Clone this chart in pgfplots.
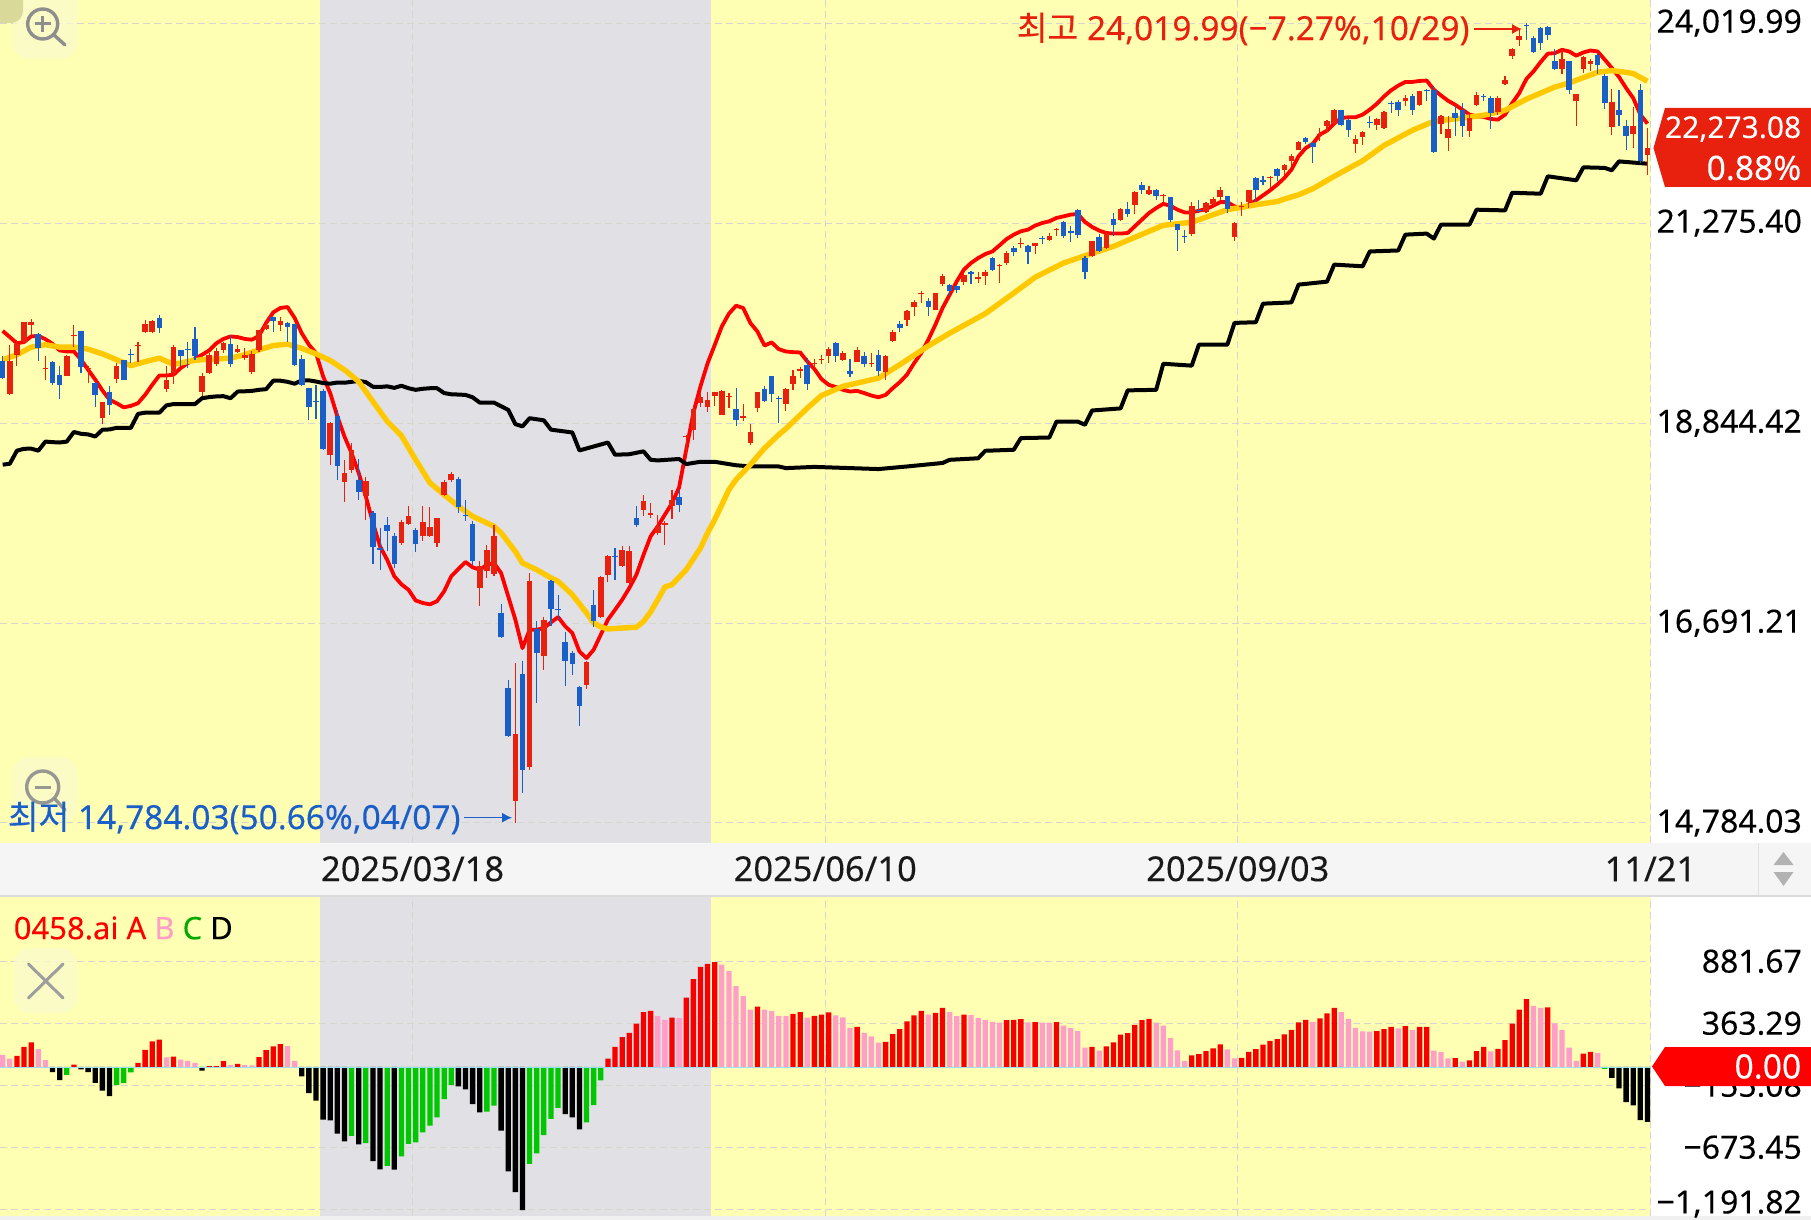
\documentclass[border=0pt]{standalone}
\usepackage{pgfplots}
\usepackage{pgfplotstable}
\pgfplotsset{compat=1.18}
\usetikzlibrary{arrows.meta}
\usepackage{fontspec}
\setmainfont[FakeBold=0.15]{Noto Sans}
\newfontfamily\cjk[FakeBold=0.15]{Noto Sans CJK KR}
\definecolor{chartbg}{HTML}{FFFFB4}
\definecolor{bandgray}{HTML}{E1E0E5}
\definecolor{candleup}{HTML}{E8200E}
\definecolor{candledn}{HTML}{1A5FC8}
\definecolor{mayel}{HTML}{FFC800}
\definecolor{gridc}{HTML}{D6D6CE}
\definecolor{barred}{HTML}{F60000}
\definecolor{barpink}{HTML}{FF9FC8}
\definecolor{bargreen}{HTML}{00C800}
\definecolor{icon}{HTML}{8E8E8E}
\definecolor{btn}{HTML}{FAFACB}
\pgfplotstableread{
i o h l c
1 19184 19763 19172 19573
2 19644 19823 19514 19775
3 19803 20033 19783 20033
4 20005 20074 19884 20033
6 19471 19624 19349 19486
9 19400 19644 19388 19624
10 19868 20005 19734 19880
12 19475 19506 19317 19486
14 18904 19094 18839 19090
16 19357 19545 19310 19514
19 19742 19803 19557 19759
20 19912 20066 19908 20013
21 19912 20058 19904 20053
23 19239 19514 19211 19341
24 19427 19763 19302 19734
28 19211 19427 19152 19392
29 19427 19663 19420 19644
30 19537 19722 19506 19683
31 19702 19803 19663 19783
33 19671 19763 19663 19718
34 19612 19722 19585 19644
35 19439 19683 19420 19652
36 19702 19944 19679 19944
37 19957 20045 19944 20005
39 19997 20098 19936 20053
46 18482 18854 18375 18851
48 18184 18431 17960 18283
49 18320 18618 18283 18542
51 18032 18238 17773 18198
56 17522 17773 17504 17752
57 17730 17924 17719 17809
59 17594 17917 17540 17748
60 17594 17910 17586 17694
61 17522 17791 17479 17787
62 18043 18209 18032 18190
63 18202 18291 18180 18268
67 17047 17328 16861 17276
68 17224 17504 17155 17450
69 17200 17719 17179 17601
72 14981 16292 14784.03 15605
74 15293 17207 15271 17127
76 16364 16753 16226 16726
82 16079 16308 16037 16302
84 16753 17172 16743 17165
85 17189 17397 17109 17380
87 17276 17493 17266 17450
88 17103 17486 17085 17443
90 17874 18043 17816 17977
91 17823 17959 17791 17841
92 17630 17827 17612 17708
93 17719 17755 17504 17734
94 17923 18099 17780 17988
96 18682 18713 18505 18702
97 18771 19056 18656 19006
98 19083 19192 19029 19144
99 19037 19207 18969 19113
100 19160 19211 19044 19207
101 18942 19227 18938 19219
102 19156 19192 19018 19164
104 18904 19063 18866 18926
105 18626 18839 18599 18740
106 19018 19207 18969 19199
110 19067 19251 18991 19243
111 19298 19459 19231 19396
112 19451 19498 19365 19475
114 19530 19592 19482 19545
115 19577 19640 19534 19592
116 19624 19734 19545 19718
118 19585 19694 19565 19663
120 19557 19734 19553 19702
122 19530 19663 19498 19545
124 19439 19640 19349 19632
125 19815 19944 19799 19920
127 20066 20187 19985 20175
128 20219 20300 20106 20276
129 20383 20416 20268 20391
131 20187 20396 20183 20391
132 20500 20633 20483 20608
135 20525 20633 20496 20620
137 20571 20650 20517 20587
138 20600 20675 20496 20650
140 20733 20754 20512 20746
141 20763 20913 20746 20892
143 21003 21084 20960 21020
145 20977 21020 20875 21016
147 21063 21148 21041 21114
148 21183 21209 21114 21200
153 20858 21050 20842 21046
155 20955 21148 20942 21131
157 21320 21466 21299 21457
159 21513 21693 21393 21680
161 21658 21764 21636 21711
163 21627 21653 21552 21640
167 21140 21556 21106 21492
169 21414 21544 21406 21535
170 21526 21609 21492 21591
171 21609 21746 21578 21711
173 21093 21286 21041 21281
174 21479 21544 21372 21496
175 21544 21711 21475 21702
178 21866 21888 21733 21875
180 21977 22057 21910 22044
181 22088 22190 22021 22155
182 22243 22357 22234 22344
185 22444 22540 22357 22462
186 22563 22654 22481 22631
187 22599 22800 22586 22791
190 22325 22449 22199 22389
191 22417 22503 22312 22490
193 22586 22677 22508 22663
194 22540 22778 22526 22764
197 22905 22999 22836 22947
199 22859 23055 22845 23046
202 22595 22723 22458 22700
203 22403 22700 22221 22526
206 22503 22745 22412 22682
207 22855 23032 22836 22994
210 22755 22985 22723 22952
211 23154 23267 23131 23211
212 23540 23658 23503 23644
213 23780 23949 23683 23838
219 23366 23634 23295 23503
221 22905 23013 22563 23003
222 23361 23550 23305 23531
223 23437 23503 23328 23470
226 22554 23079 22444 22901
229 22462 22827 22266 22572
231 22177 22540 21910 22273.08
}\candlesUp
\pgfplotstableread{
i o h l c
0 19565 19624 19357 19372
5 19896 19904 19565 19730
7 19553 19565 19290 19313
8 19404 19514 19121 19290
11 19936 19936 19427 19498
13 19317 19329 19026 19168
15 19203 19270 18938 19053
17 19577 19585 19341 19349
18 19655 19710 19545 19640
22 20090 20122 19904 19965
25 19695 19695 19506 19632
26 19718 19791 19486 19706
27 19831 19973 19585 19632
32 19775 19884 19498 19530
38 20094 20098 19912 20045
40 20029 20041 19803 19973
41 20009 20013 19514 19526
42 19592 19644 19278 19290
43 19251 19258 18877 19037
44 19105 19290 18893 19090
45 19219 19239 18542 18546
47 18931 18992 18209 18357
50 18209 18439 17981 18077
52 17841 17863 17300 17479
53 17468 17683 17241 17450
54 17712 17802 17443 17655
55 17601 17630 17259 17304
58 17665 17680 17433 17507
64 18216 18238 17845 17910
65 17827 17988 17755 17816
66 17726 17755 17293 17328
70 16794 16888 16541 16551
71 16043 16128 15576 15583
73 16184 16315 15056 15271
75 16632 16709 15900 16390
77 17120 17137 16659 16834
78 16838 16981 16726 16824
79 16497 16598 16069 16308
80 16396 16406 16177 16285
81 16056 16069 15684 15874
83 16872 17026 16652 16709
86 17391 17468 17130 17373
89 17791 17917 17691 17719
95 18018 18099 17855 17930
103 19006 19247 18809 18877
107 19239 19278 19086 19102
108 19392 19392 19094 19180
109 19141 19152 18847 19121
113 19522 19604 19231 19302
117 19783 19803 19557 19624
119 19451 19589 19376 19419
121 19628 19671 19494 19530
123 19640 19698 19388 19447
126 20017 20045 19924 19965
130 20288 20329 20114 20215
133 20496 20508 20350 20412
134 20475 20496 20391 20425
136 20650 20662 20500 20633
139 20825 20838 20671 20683
142 20955 20977 20859 20900
144 20981 20990 20758 20900
146 21084 21114 21011 21067
149 21290 21303 21084 21106
150 21170 21234 21029 21153
151 21449 21457 21084 21127
152 20829 20858 20567 20658
154 21097 21140 20900 20913
156 21329 21406 21106 21247
158 21462 21556 21354 21389
160 21773 21808 21658 21711
162 21711 21720 21569 21631
164 21609 21613 21294 21311
165 21269 21269 20913 21183
166 21114 21191 21020 21101
168 21449 21578 21406 21432
172 21622 21631 21406 21457
176 21862 21875 21544 21711
177 21835 21888 21777 21817
179 21986 21999 21821 21897
183 22403 22412 22321 22348
184 22334 22344 22066 22280
188 22782 22791 22563 22586
189 22654 22677 22412 22517
192 22627 22709 22540 22613
195 22878 22905 22745 22864
196 22891 22928 22709 22791
198 22985 23013 22723 22791
200 23065 23079 22905 23050
201 23060 23116 22199 22216
204 22741 22836 22435 22677
205 22782 22882 22417 22572
208 22975 23008 22905 22961
209 22947 22975 22526 22745
214 23998 24019.99 23780 23983
215 23804 23838 23587 23596
216 23949 23964 23634 23731
217 23964 23983 23780 23852
218 23470 23644 23342 23361
220 23470 23479 23013 23060
224 23564 23587 23295 23423
225 23267 23295 22800 22878
227 22791 23060 22563 22723
228 22572 22645 22243 22435
230 23060 23149 22066 22088
}\candlesDown
\pgfplotstableread{
i v
0 19932
1 19856
2 19783
3 19795
4 19864
5 19872
6 19831
7 19775
8 19695
9 19683
10 19683
11 19585
12 19467
13 19349
14 19223
15 19113
16 19075
17 19026
18 19045
19 19075
20 19172
21 19290
22 19400
23 19400
24 19408
25 19486
26 19545
27 19596
28 19644
29 19695
30 19783
31 19835
32 19864
33 19856
34 19835
35 19823
36 19872
37 20025
38 20154
39 20207
40 20219
41 20086
42 19904
43 19763
44 19663
45 19388
46 19192
47 18923
48 18694
49 18505
50 18283
51 18025
52 17737
53 17486
54 17345
55 17172
56 17089
57 17033
58 16922
59 16896
60 16882
61 16915
62 17016
63 17172
64 17248
65 17321
66 17266
67 17241
68 17293
69 17311
70 17207
71 16964
72 16726
73 16440
74 16625
75 16625
76 16642
77 16699
78 16753
79 16659
80 16592
81 16406
82 16341
83 16423
84 16575
85 16726
86 16827
87 16929
88 17050
89 17189
90 17397
91 17594
92 17701
93 17827
94 17952
95 18125
96 18542
97 18961
98 19270
99 19545
100 19762
101 19985
102 20138
103 20235
104 20207
105 20025
106 19924
107 19755
108 19791
109 19710
110 19683
111 19675
112 19671
113 19565
114 19475
115 19357
116 19290
117 19262
118 19231
119 19211
120 19219
121 19192
122 19164
123 19144
124 19172
125 19251
126 19321
127 19408
128 19545
129 19663
130 19823
131 20005
132 20207
133 20371
134 20537
135 20683
136 20767
137 20829
138 20879
139 20913
140 20990
141 21071
142 21127
143 21170
144 21191
145 21243
146 21277
147 21299
148 21342
149 21363
150 21385
151 21393
152 21290
153 21226
154 21179
155 21148
156 21140
157 21140
158 21148
159 21234
160 21320
161 21406
162 21470
163 21526
164 21500
165 21449
166 21414
167 21414
168 21436
169 21457
170 21500
171 21548
172 21548
173 21492
174 21470
175 21513
176 21569
177 21636
178 21702
179 21777
180 21866
181 21977
182 22155
183 22266
184 22325
185 22449
186 22503
187 22599
188 22677
189 22686
190 22686
191 22723
192 22791
193 22873
194 22975
195 23060
196 23126
197 23178
198 23178
199 23192
200 23197
201 23069
202 22989
203 22914
204 22859
205 22791
206 22723
207 22700
208 22691
209 22663
210 22654
211 22723
212 22882
213 23022
214 23220
215 23328
216 23460
217 23578
218 23587
219 23634
220 23610
221 23550
222 23596
223 23624
224 23610
225 23493
226 23375
227 23248
228 23093
229 22952
230 22723
231 22599
}\maRed
\pgfplotstableread{
i v
0 19585
2 19644
4 19734
6 19763
8 19734
10 19734
12 19710
14 19655
16 19585
18 19514
20 19561
22 19604
24 19530
26 19565
28 19585
30 19592
32 19604
34 19644
36 19702
38 19755
40 19771
42 19722
44 19655
46 19577
48 19467
50 19329
52 19094
54 18866
56 18702
58 18431
60 18176
62 18043
64 17917
66 17809
69 17701
70 17630
72 17433
73 17311
75 17241
77 17155
78 17120
80 16981
82 16794
83 16693
84 16652
85 16632
87 16642
89 16649
90 16709
91 16804
92 16929
93 17061
94 17085
96 17241
98 17468
99 17630
100 17773
101 17934
102 18099
103 18210
105 18377
107 18561
109 18713
110 18782
113 19018
115 19165
118 19270
123 19368
126 19526
130 19750
133 19904
138 20138
142 20391
145 20587
149 20767
152 20858
156 20977
159 21093
163 21247
167 21286
172 21449
176 21513
179 21556
180 21587
182 21644
184 21724
187 21888
191 22096
194 22302
198 22508
201 22631
204 22663
208 22714
211 22782
214 22937
218 23107
220 23164
224 23314
226 23338
228 23314
229 23295
231 23187
}\maYellow
\pgfplotstableread{
i v
0 18375
1 18386
2 18534
3 18553
4 18557
5 18534
6 18637
7 18630
8 18626
9 18637
10 18744
11 18725
12 18717
13 18694
14 18771
15 18774
16 18790
17 18793
18 18793
19 18953
20 18965
21 18965
22 18965
23 19049
24 19064
25 19064
26 19064
27 19064
28 19133
29 19148
30 19152
31 19156
32 19133
33 19211
34 19215
35 19219
36 19231
37 19239
38 19337
39 19337
40 19325
41 19302
42 19341
43 19341
44 19329
45 19310
46 19302
47 19317
48 19313
49 19325
50 19333
51 19321
52 19266
53 19262
54 19270
55 19254
56 19278
57 19251
58 19231
59 19243
60 19251
61 19251
62 19192
63 19180
64 19176
65 19172
66 19144
67 19083
69 19083
71 18999
72 18835
73 18808
74 18903
76 18877
77 18770
80 18740
81 18535
85 18625
86 18487
88 18494
90 18524
91 18431
92 18424
95 18439
96 18383
98 18409
100 18409
101 18394
103 18369
105 18357
109 18357
110 18339
114 18350
123 18327
127 18357
132 18394
133 18431
137 18446
138 18531
142 18542
143 18675
147 18683
148 18862
151 18862
152 18828
153 18992
157 19015
158 19223
162 19231
163 19537
167 19514
168 19763
172 19763
173 20025
176 20033
177 20260
181 20276
182 20496
186 20533
187 20746
191 20725
192 20913
196 20925
197 21127
200 21140
201 21076
202 21256
206 21256
207 21449
211 21440
212 21671
216 21658
217 21888
221 21835
222 22008
225 22000
226 21968
227 22087
231 22056
}\maBlack
% turn two columns of a candle table into one list of vertical segments
\def\collectsegs#1#2#3#4{%
  \gdef#4{}%
  \pgfplotstablegetrowsof{#1}%
  \pgfmathtruncatemacro\lastrow{\pgfplotsretval-1}%
  \foreach \r in {0,...,\lastrow}{%
    \pgfplotstablegetelem{\r}{i}\of{#1}\let\cX\pgfplotsretval
    \pgfplotstablegetelem{\r}{#2}\of{#1}\let\cA\pgfplotsretval
    \pgfplotstablegetelem{\r}{#3}\of{#1}\let\cB\pgfplotsretval
    \xdef#4{#4 (\cX,\cA)(\cX,\cB)(\cX,nan)}%
  }%
}
\collectsegs{\candlesUp}{h}{l}{\wicksUp}
\collectsegs{\candlesDown}{h}{l}{\wicksDown}
\collectsegs{\candlesUp}{o}{c}{\bodiesUp}
\collectsegs{\candlesDown}{o}{c}{\bodiesDown}
\begin{document}
\begin{tikzpicture}[x=0.25pt,y=-0.25pt]
\useasboundingbox (0,0) rectangle (1811,1220);
% page and backgrounds, in reference pixels
\fill[white] (0,0) rectangle (1811,1220);
\fill[chartbg] (0,0) rectangle (1651,843);
\fill[chartbg] (0,896) rectangle (1651,1216);
\fill[bandgray] (320,0) rectangle (711,843);
\fill[bandgray] (320,896) rectangle (711,1216);
\fill[black!4] (0,843) rectangle (1811,895);
\fill[black!14] (0,895) rectangle (1811,896.5);
\fill[black!6] (0,1216) rectangle (1811,1220);
\draw[black!12,line width=.25pt] (1758,843)--(1758,895);
\fill[black!30] (1773.5,865)--(1783.5,852)--(1793.5,865)--cycle;
\fill[black!30] (1773.5,872)--(1783.5,886)--(1793.5,872)--cycle;
% price panel
\begin{axis}[
  at={(0pt,-210.75pt)},anchor=south west,
  width=412.75pt,height=210.75pt,scale only axis,
  ymode=log,
  xmin=-0.379,xmax=231.5,ymin=14608,ymax=24362,
  axis line style={draw=none},tick style={draw=none},major tick length=0pt,
  xtick={57.57,115.53,173.47,231.42},
  xticklabels={2025/03/18,2025/06/10,2025/09/03,11/21},
  xticklabel style={anchor=center,yshift=-6.5pt,font=\fontsize{8.6pt}{9.5pt}\selectfont,black!90},
  ytick={14784.03,16691.21,18844.42,21275.40,24019.99},
  yticklabels={{14,784.03},{16,691.21},{18,844.42},{21,275.40},{24,019.99}},
  yticklabel pos=right,
  yticklabel style={anchor=east,xshift=41.25pt,font=\fontsize{8pt}{9pt}\selectfont,black},
  xmajorgrids,ymajorgrids,
  grid style={dash pattern=on 1.75pt off 1pt,line width=.25pt,gridc},
  unbounded coords=jump,
]
\addplot[red,line width=.95pt,line join=round,mark=none] table[x=i,y=v]{\maRed};
\addplot[black,line width=1pt,line join=round,mark=none] table[x=i,y=v]{\maBlack};
\addplot[mayel,line width=1.35pt,line join=round,mark=none] table[x=i,y=v]{\maYellow};
\edef\tmpplot{\noexpand\addplot[candleup,line width=.28pt,mark=none] coordinates {\wicksUp};}\tmpplot
\edef\tmpplot{\noexpand\addplot[candledn,line width=.28pt,mark=none] coordinates {\wicksDown};}\tmpplot
\edef\tmpplot{\noexpand\addplot[candleup,line width=1.4pt,mark=none] coordinates {\bodiesUp};}\tmpplot
\edef\tmpplot{\noexpand\addplot[candledn,line width=1.4pt,mark=none] coordinates {\bodiesDown};}\tmpplot
\end{axis}
% oscillator panel
\begin{axis}[
  at={(0pt,-304pt)},anchor=south west,
  width=412.75pt,height=80pt,scale only axis,
  xmin=-0.379,xmax=231.5,ymin=-1247.9,ymax=1427.6,
  axis line style={draw=none},tick style={draw=none},major tick length=0pt,
  xtick={57.57,115.53,173.47,231.42},xticklabels={},
  ytick={-1191.82,-673.45,-155.08,363.29,881.67},
  yticklabels={{\raisebox{3.75pt}{−1,191.82}},{−673.45},{−155.08},{363.29},{881.67}},
  yticklabel pos=right,
  yticklabel style={anchor=east,xshift=41.25pt,font=\fontsize{8pt}{9pt}\selectfont,black},
  xmajorgrids,ymajorgrids,
  grid style={dash pattern=on 1.75pt off 1pt,line width=.25pt,gridc},
]
\addplot[ybar,bar width=1.325pt,bar shift=0pt,draw=none,fill=barred] coordinates {
(2,92)(3,167)(4,203)(10,17)(19,33)(20,142)(21,212)(22,226)(24,84)(29,6)(30,6)(31,47)(33,25)(36,81)(37,139)(38,170)(39,190)
(85,67)(86,167)(87,248)(88,284)(89,360)(90,457)(91,468)(94,410)(96,577)(97,733)(98,836)(99,861)(100,875)
(106,502)(111,443)(112,457)(114,426)(115,435)(116,454)(120,334)(124,209)(125,273)(126,315)(127,379)(128,429)(129,468)
(131,451)(132,493)(135,435)(141,390)(142,393)(143,399)(145,373)(148,373)(153,167)(155,170)(156,203)(157,268)(158,281)
(159,351)(160,390)(161,401)(167,95)(168,106)(169,131)(170,153)(171,187)(174,75)(175,125)(176,148)(177,184)(178,217)
(179,231)(180,270)(181,309)(182,371)(183,393)(185,404)(186,446)(187,493)(193,298)(194,315)(195,334)(197,340)(199,334)
(200,334)(204,72)(206,53)(207,131)(208,167)(210,150)(211,223)(212,360)(213,477)(214,566)(217,496)(222,109)(223,125)};
\addplot[ybar,bar width=1.325pt,bar shift=0pt,draw=none,fill=barpink] coordinates {
(0,98)(1,67)(5,148)(6,56)(23,78)(25,59)(26,50)(27,33)(32,14)(34,14)(35,11)(40,173)(41,50)
(92,424)(93,393)(95,407)(101,853)(102,800)(103,674)(104,591)(105,477)(107,477)(108,465)(109,426)(110,424)(113,410)
(117,429)(118,412)(119,326)(121,284)(122,254)(123,201)(130,435)(133,457)(134,424)(136,432)(137,407)(138,390)(139,376)
(140,368)(144,371)(146,368)(147,368)(149,343)(150,323)(151,298)(152,159)(154,134)(162,368)(163,343)(164,242)(165,137)
(166,50)(172,145)(173,70)(184,376)(188,457)(189,401)(190,326)(191,295)(192,293)(196,320)(198,309)(201,134)(202,123)
(203,70)(205,42)(209,128)(215,510)(216,493)(218,362)(219,309)(220,159)(221,50)(224,117)};
\addplot[ybar,bar width=1.325pt,bar shift=0pt,draw=none,fill=bargreen] coordinates {
(9,-67)(16,-153)(17,-137)(18,-47)(49,-577)(51,-638)(54,-828)(56,-750)(57,-644)(58,-633)(59,-549)(60,-493)(61,-424)
(62,-270)(63,-153)(68,-376)(69,-326)(74,-811)(75,-725)(76,-571)(77,-435)(78,-343)(82,-465)(83,-320)(84,-114)(225,-17)};
\addplot[ybar,bar width=1.325pt,bar shift=0pt,draw=none,fill=black] coordinates {
(7,-45)(8,-111)(11,-22)(12,-45)(13,-134)(14,-200)(15,-245)(28,-33)(42,-81)(43,-220)(44,-284)(45,-443)(46,-449)(47,-560)
(48,-624)(50,-649)(52,-789)(53,-858)(55,-861)(64,-164)(65,-190)(66,-312)(67,-382)(70,-535)(71,-875)(72,-1048)(73,-1198)
(79,-396)(80,-424)(81,-524)(226,-92)(227,-181)(228,-295)(229,-323)(230,-446)(231,-460)};
\addplot[color=blue!30!cyan!40,line width=.35pt,mark=none] coordinates {(-0.379,-6)(231.5,-6)};
\end{axis}
% annotations
\node[anchor=west,inner sep=0pt,text=candleup,font=\fontsize{8.35pt}{9pt}\selectfont] at (1016,29) {{\cjk 최고} 24,019.99(−7.27\%,10/29)};
\draw[candleup,line width=.3pt,-{Latex[length=2.5pt,width=2.5pt]}] (1474,29)--(1522,29);
% zoom buttons
\fill[btn,opacity=.75,rounded corners=4pt] (13,-20) rectangle (77,59);
\fill[black!15!chartbg,rounded corners=3pt] (-20,-20) rectangle (23,23);
\draw[icon,line width=.85pt] (42.7,24) circle[radius=3.75pt];
\draw[icon,line width=.85pt,line cap=round] (54,35)--(65,45);
\draw[icon,line width=.75pt] (34.5,24)--(50.5,24) (42.7,16)--(42.7,32);
\fill[btn,opacity=.75,rounded corners=4pt] (13,757) rectangle (77,822);
\draw[icon,opacity=.9,line width=.85pt] (42.7,787) circle[radius=4pt];
\draw[icon,opacity=.9,line width=.85pt,line cap=round] (55,799)--(65,810);
\draw[icon,opacity=.9,line width=.75pt] (35,787)--(50.5,787);
\node[anchor=west,inner sep=0pt,text=candledn,font=\fontsize{8.35pt}{9pt}\selectfont] at (7,818) {{\cjk 최저} 14,784.03(50.66\%,04/07)};
\draw[candledn,line width=.3pt,-{Latex[length=2.5pt,width=2.5pt]}] (464,817.7)--(512,817.7);
% indicator legend and close button
\node[anchor=west,inner sep=0pt,font=\fontsize{7.75pt}{8.5pt}\selectfont] at (13,928) {\textcolor{red}{0458.ai A} \textcolor{barpink}{B} \textcolor{bargreen!85!black}{C} \textcolor{black}{D}};
\fill[btn,opacity=.8,rounded corners=4pt] (14,948) rectangle (77,1013);
\draw[black!38,line width=.75pt,line cap=round] (28.5,964)--(63,998) (63,964)--(28.5,998);
% price badges
\fill[candleup] (1653.5,148)--(1665,108)--(1811,108)--(1811,187)--(1665,187)--cycle;
\node[anchor=east,inner sep=0pt,text=white,font=\fontsize{7.5pt}{9pt}\selectfont] at (1802,129) {22,273.08};
\node[anchor=east,inner sep=0pt,text=white,font=\fontsize{8.4pt}{9pt}\selectfont] at (1802,168) {0.88\%};
\fill[red] (1652,1066.5)--(1665,1047)--(1811,1047)--(1811,1086)--(1665,1086)--cycle;
\node[anchor=east,inner sep=0pt,text=white,font=\fontsize{8.4pt}{9pt}\selectfont] at (1802,1066.5) {0.00};
\end{tikzpicture}
\end{document}
